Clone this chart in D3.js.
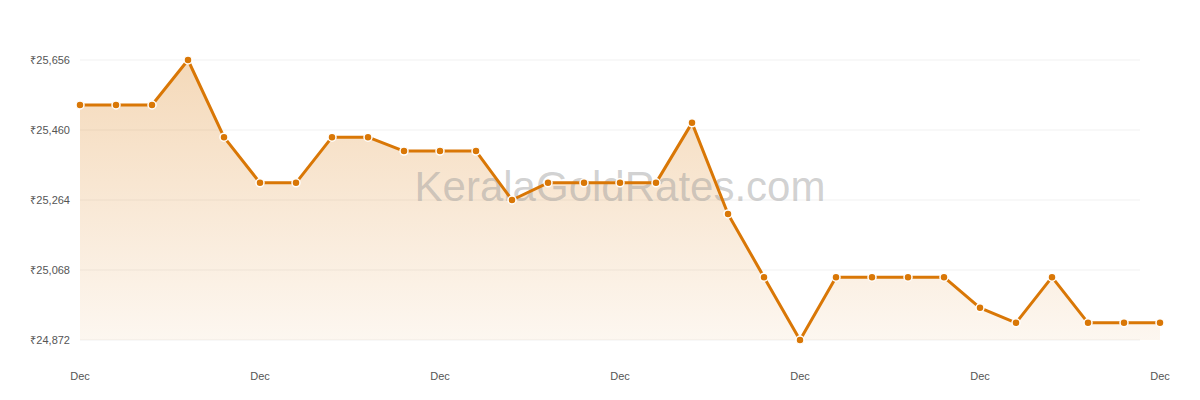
<!DOCTYPE html>
<html><head><meta charset="utf-8">
<script src="https://cdn.jsdelivr.net/npm/d3@7"></script>
<style>body{margin:0;background:#fff;font-family:"Helvetica Neue",Arial,"Liberation Sans",sans-serif}</style>
</head><body><svg id="c" width="1200" height="400"></svg>
<script>
const values=[25530,25530,25530,25656,25440,25312,25312,25440,25440,25401,25401,25401,25264,25312,25312,25312,25312,25480,25225,25048,24872,25048,25048,25048,25048,24962,24920,25048,24920,24920,24920];
const yTicks=[24872,25068,25264,25460,25656];
const xLabel="Dec";
const svg=d3.select("#c");
const x=d3.scaleLinear().domain([0,values.length-1]).range([80,1160]);
const y=d3.scaleLinear().domain([24872,25656]).range([340,60]);
const defs=svg.append("defs");
const g=defs.append("linearGradient").attr("id","gr").attr("x1",0).attr("y1",0).attr("x2",0).attr("y2",1);
g.append("stop").attr("offset","0%").attr("stop-color","#d97706").attr("stop-opacity",0.28);
g.append("stop").attr("offset","100%").attr("stop-color","#d97706").attr("stop-opacity",0.06);
svg.append("g").selectAll("line").data(yTicks).join("line")
 .attr("x1",80).attr("x2",1140).attr("y1",d=>y(d)).attr("y2",d=>y(d)).attr("stroke","#f1f1f1");
svg.append("g").selectAll("text").data(yTicks).join("text")
 .attr("x",70).attr("y",d=>y(d)+4).attr("text-anchor","end").attr("font-size",11).attr("fill","#555")
 .text(d=>"₹"+d3.format(",")(d));
const xt=d3.range(0,values.length,5);
svg.append("g").selectAll("text").data(xt).join("text")
 .attr("x",d=>x(d)).attr("y",380).attr("text-anchor","middle").attr("font-size",11).attr("fill","#555").text(xLabel);
svg.append("path").datum(values).attr("fill","url(#gr)")
 .attr("d",d3.area().x((d,i)=>x(i)).y0(340).y1(d=>y(d)));
svg.append("text").attr("x",620).attr("y",201).attr("text-anchor","middle").attr("font-size",42)
 .attr("fill","#999").attr("fill-opacity",0.45).text("KeralaGoldRates.com");
svg.append("path").datum(values).attr("fill","none").attr("stroke","#d97706").attr("stroke-width",3)
 .attr("stroke-linejoin","round").attr("d",d3.line().x((d,i)=>x(i)).y(d=>y(d)));
svg.append("g").selectAll("circle").data(values).join("circle")
 .attr("cx",(d,i)=>x(i)).attr("cy",d=>y(d)).attr("r",4).attr("fill","#d97706").attr("stroke","#fff").attr("stroke-width",1.5);
</script></body></html>
